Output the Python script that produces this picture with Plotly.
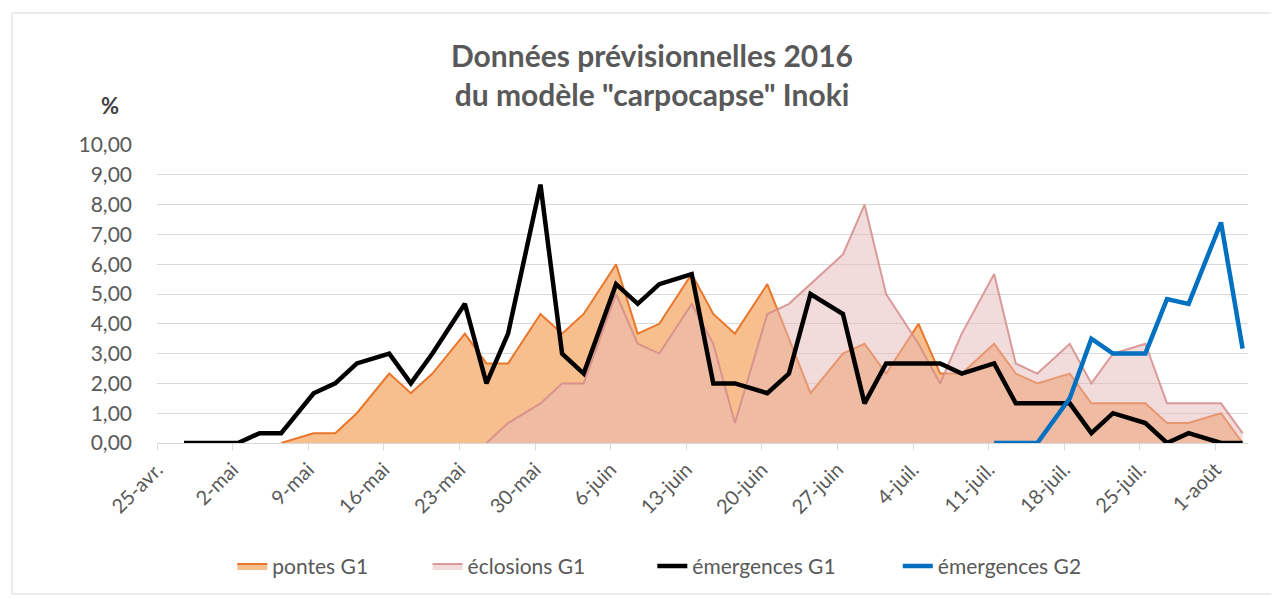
import pandas as pd
import plotly.graph_objects as go

# Observation dates (Mon / Wed / Fri), 2016
dates = [
    "2016-04-27", "2016-04-29", "2016-05-02", "2016-05-04", "2016-05-06",
    "2016-05-09", "2016-05-11", "2016-05-13", "2016-05-16", "2016-05-18",
    "2016-05-20", "2016-05-23", "2016-05-25", "2016-05-27", "2016-05-30",
    "2016-06-01", "2016-06-03", "2016-06-06", "2016-06-08", "2016-06-10",
    "2016-06-13", "2016-06-15", "2016-06-17", "2016-06-20", "2016-06-22",
    "2016-06-24", "2016-06-27", "2016-06-29", "2016-07-01", "2016-07-04",
    "2016-07-06", "2016-07-08", "2016-07-11", "2016-07-13", "2016-07-15",
    "2016-07-18", "2016-07-20", "2016-07-22", "2016-07-25", "2016-07-27",
    "2016-07-29", "2016-08-01", "2016-08-03",
]

pontes_g1 = [
    None, None, None, None, 0.0, 0.33, 0.33, 1.0, 2.33, 1.67,
    2.33, 3.67, 2.67, 2.67, 4.33, 3.67, 4.33, 6.0, 3.67, 4.0,
    5.67, 4.33, 3.67, 5.33, 3.5, 1.67, 3.0, 3.33, 2.33, 4.0,
    2.33, 2.33, 3.33, 2.33, 2.0, 2.33, 1.33, 1.33, 1.33, 0.67,
    0.67, 1.0, 0.0,
]

eclosions_g1 = [
    None, None, None, None, None, None, None, None, None, None,
    None, None, 0.0, 0.67, 1.33, 2.0, 2.0, 5.0, 3.33, 3.0,
    4.67, 3.33, 0.67, 4.33, 4.67, 5.33, 6.33, 8.0, 5.0, 3.33,
    2.0, 3.67, 5.67, 2.67, 2.33, 3.33, 2.0, 3.0, 3.33, 1.33,
    1.33, 1.33, 0.33,
]

emergences_g1 = [
    0.0, 0.0, 0.0, 0.33, 0.33, 1.67, 2.0, 2.67, 3.0, 2.0,
    3.0, 4.67, 2.0, 3.67, 8.67, 3.0, 2.33, 5.33, 4.67, 5.33,
    5.67, 2.0, 2.0, 1.67, 2.33, 5.0, 4.33, 1.33, 2.67, 2.67,
    2.67, 2.33, 2.67, 1.33, 1.33, 1.33, 0.33, 1.0, 0.67, 0.0,
    0.33, 0.0, 0.0,
]

emergences_g2 = [
    None, None, None, None, None, None, None, None, None, None,
    None, None, None, None, None, None, None, None, None, None,
    None, None, None, None, None, None, None, None, None, None,
    None, None, 0.0, 0.0, 0.0, 1.5, 3.5, 3.0, 3.0, 4.83,
    4.67, 7.4, 3.17,
]

tick_dates = [
    "2016-04-25", "2016-05-02", "2016-05-09", "2016-05-16", "2016-05-23",
    "2016-05-30", "2016-06-06", "2016-06-13", "2016-06-20", "2016-06-27",
    "2016-07-04", "2016-07-11", "2016-07-18", "2016-07-25", "2016-08-01",
]
tick_labels = [
    "25-avr.", "2-mai", "9-mai", "16-mai", "23-mai", "30-mai", "6-juin",
    "13-juin", "20-juin", "27-juin", "4-juil.", "11-juil.", "18-juil.",
    "25-juil.", "1-août",
]

series_names = ["pontes G1", "éclosions G1", "émergences G1", "émergences G2"]

# each date sits in the middle of its day slot (Excel date axis)
x = pd.to_datetime(dates) + pd.Timedelta(hours=12)

FONT = "Lato"
GRAY = "#595959"
W, H = 1271, 591  # page body has an 8px margin

fig = go.Figure()
fig.add_trace(go.Scatter(
    x=x, y=pontes_g1, name=series_names[0], mode="lines",
    line=dict(color="#E8762B", width=2), fill="tozeroy",
    fillcolor="#F8BF8E", legend="legend", showlegend=True,
))
fig.add_trace(go.Scatter(
    x=x, y=eclosions_g1, name=series_names[1], mode="lines",
    line=dict(color="rgba(212,140,139,0.85)", width=2), fill="tozeroy",
    fillcolor="rgba(230,184,183,0.5)", legend="legend2", showlegend=True,
))
fig.add_trace(go.Scatter(
    x=x, y=emergences_g1, name=series_names[2], mode="lines",
    line=dict(color="#000000", width=4.5), legend="legend3", showlegend=True,
))
fig.add_trace(go.Scatter(
    x=x, y=emergences_g2, name=series_names[3], mode="lines",
    line=dict(color="#0070C0", width=4.5), legend="legend4", showlegend=True,
))

leg_common = dict(orientation="h", yanchor="middle", y=-0.414, xanchor="left",
                  font=dict(family=FONT, size=21, color=GRAY),
                  bgcolor="rgba(0,0,0,0)")

fig.update_layout(
    width=W, height=H,
    margin=dict(l=149, r=31, t=137, b=156),
    showlegend=True,
    paper_bgcolor="white", plot_bgcolor="white",
    separators=", ",
    font=dict(family=FONT, color=GRAY),
    title=dict(
        text="<b>Données prévisionnelles 2016<br>du modèle \"carpocapse\" Inoki</b>",
        x=644 / W, xanchor="center", xref="container",
        y=1 - 59 / H, yanchor="top", yref="container",
        font=dict(family=FONT, size=30, color=GRAY),
    ),
    legend=dict(leg_common, x=0.069),
    legend2=dict(leg_common, x=0.248),
    legend3=dict(leg_common, x=0.454),
    legend4=dict(leg_common, x=0.679),
    xaxis=dict(
        type="date",
        range=["2016-04-25", "2016-08-04"],
        tickvals=tick_dates, ticktext=tick_labels, tickangle=-45,
        showgrid=False, showline=True, linecolor="#D9D9D9", linewidth=1,
        ticks="outside", ticklen=6, tickcolor="#D9D9D9",
        tickfont=dict(family=FONT, size=20, color=GRAY),
        zeroline=False,
    ),
    yaxis=dict(
        range=[0, 10], dtick=1, tickformat=".2f",
        showgrid=True, gridcolor="#D9D9D9", gridwidth=1,
        zeroline=False, showline=False, ticks="",
        ticklabelstandoff=24,
        tickfont=dict(family=FONT, size=21, color=GRAY),
    ),
    annotations=[dict(
        text="<b>%</b>", xref="paper", yref="paper",
        x=(110 - 157) / 1091, y=(443 - 105) / 298,
        showarrow=False, xanchor="center", yanchor="middle",
        font=dict(family=FONT, size=22, color="#404040"),
    )],
    shapes=[dict(
        type="rect", xref="paper", yref="paper",
        x0=(12 - 157) / 1091, x1=(1272 - 157) / 1091,
        y0=(443 - 594) / 298, y1=(443 - 13) / 298,
        line=dict(color="#D9D9D9", width=1), fillcolor="rgba(0,0,0,0)",
        layer="below",
    )],
)

fig.write_html("out.html")
